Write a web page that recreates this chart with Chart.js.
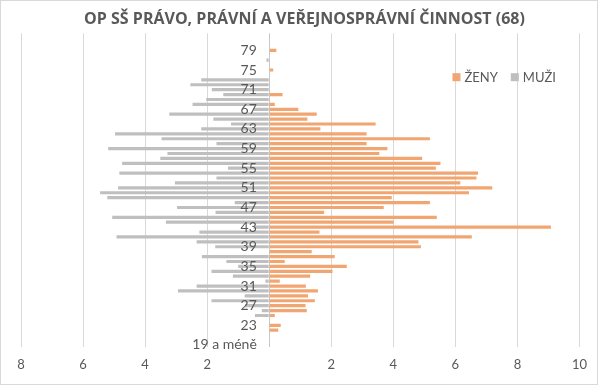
<!DOCTYPE html>
<html>
<head>
<meta charset="utf-8">
<script src="https://cdn.jsdelivr.net/npm/chart.js@4.4.1/dist/chart.umd.min.js"></script>
<style>
  html, body { margin: 0; padding: 0; background: #fff; }
  #wrap { width: 596px; height: 383px; border: 1px solid #d9d9d9; }
</style>
</head>
<body>
<div id="wrap"><canvas id="pyramid" width="596" height="383"></canvas></div>
<script>
const ages = ['19 a méně'];
for (let a = 20; a <= 82; a++) ages.push(String(a));

// ženy, věk 19 a méně .. 82
const zeny = [
  0, 0, 0, 0.29, 0.37, 0, 0.18, 1.21, 1.17, 1.47,
  1.25, 1.57, 1.18, 0.34, 1.32, 2.04, 2.50, 0.50, 2.11, 1.37,
  4.89, 4.81, 6.53, 1.62, 9.08, 4.01, 5.40, 1.77, 3.69, 5.18,
  3.95, 6.44, 7.19, 6.16, 6.68, 6.73, 5.37, 5.52, 4.93, 3.55,
  3.81, 3.14, 5.18, 3.14, 1.65, 3.43, 1.23, 1.53, 0.94, 0.18,
  0, 0.43, 0, 0, 0, 0, 0.13, 0, 0, 0,
  0.23, 0, 0, 0
];

// muži, věk 19 a méně .. 82 (kreslí se doleva)
const muzi = [
  0, 0, 0, 0, 0, 0, 0.46, 0.24, 0.78, 1.86,
  0.79, 2.94, 2.34, 0.12, 1.17, 1.86, 1.00, 1.38, 2.17, 0,
  1.74, 2.34, 4.92, 2.25, 0.50, 3.33, 5.06, 1.73, 2.97, 1.11,
  5.22, 5.45, 4.87, 3.04, 1.70, 4.83, 1.33, 4.74, 3.51, 3.28,
  5.19, 1.70, 3.47, 4.97, 2.19, 1.23, 1.80, 3.22, 0.50, 2.47,
  2.03, 1.48, 1.85, 2.54, 2.19, 0, 0, 0, 0.09, 0,
  0, 0, 0, 0
];

const orange = '#F1A570';
const grey = '#BFBFBF';
const textGrey = '#595959';

const insideLegend = {
  id: 'insideLegend',
  afterDraw(chart) {
    const ctx = chart.ctx;
    const area = chart.chartArea;
    let x = area.right - 127;
    const y = area.top + 44;
    ctx.save();
    ctx.font = '13px Lato';
    ctx.textBaseline = 'middle';
    chart.data.datasets.forEach(ds => {
      ctx.fillStyle = ds.backgroundColor;
      ctx.fillRect(x, y - 4, 8, 8);
      ctx.fillStyle = textGrey;
      ctx.fillText(ds.label, x + 12, y + 1);
      x += 12 + ctx.measureText(ds.label).width + 13;
    });
    ctx.restore();
  }
};

new Chart(document.getElementById('pyramid'), {
  type: 'bar',
  data: {
    labels: ages,
    datasets: [
      { label: 'ŽENY', data: zeny, backgroundColor: orange, barPercentage: 0.65, categoryPercentage: 1 },
      { label: 'MUŽI', data: muzi.map(v => -v), backgroundColor: grey, barPercentage: 0.65, categoryPercentage: 1 }
    ]
  },
  options: {
    indexAxis: 'y',
    responsive: false,
    animation: false,
    layout: { padding: { left: 20, right: 9, bottom: 1 } },
    plugins: {
      legend: { display: false },
      tooltip: { enabled: false },
      title: {
        display: true,
        text: 'OP SŠ PRÁVO, PRÁVNÍ A VEŘEJNOSPRÁVNÍ ČINNOST (68)',
        color: textGrey,
        font: { family: 'Open Sans', size: 16, weight: 'bold' },
        padding: { top: 9, bottom: 4 }
      }
    },
    scales: {
      x: {
        stacked: true,
        min: -8,
        max: 10,
        ticks: {
          stepSize: 2,
          color: textGrey,
          font: { family: 'Lato', size: 13 },
          padding: 10,
          callback: v => v === 0 ? '' : Math.abs(v)
        },
        grid: {
          color: c => c.tick && c.tick.value === 0 ? '#c8c8c8' : '#d9d9d9',
          drawTicks: false
        },
        border: { display: false }
      },
      y: {
        stacked: true,
        reverse: true,
        position: { x: -0.4 },
        ticks: {
          z: 1,
          autoSkip: false,
          color: textGrey,
          font: { family: 'Lato', size: 14 },
          callback: (v, i) => i % 4 === 0 ? ages[i] : ''
        },
        grid: { display: false },
        border: { display: false }
      }
    }
  },
  plugins: [insideLegend]
});
</script>
</body>
</html>
